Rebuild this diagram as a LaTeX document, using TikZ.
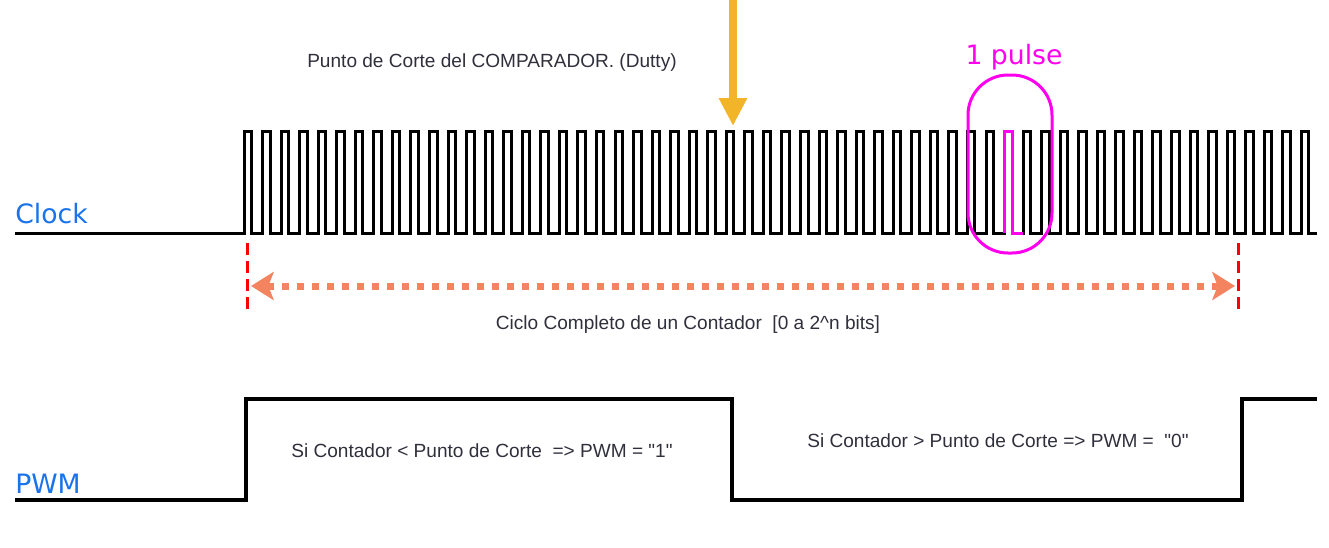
\documentclass[tikz,border=0pt]{standalone}
\usepackage{fontspec}
\setmainfont{Liberation Sans}
\newfontfamily\labelfont{DejaVu Sans}
\usetikzlibrary{arrows.meta}
\definecolor{clockBlue}{HTML}{1A73E8}
\definecolor{pulseMagenta}{HTML}{FF00EE}
\definecolor{cutYellow}{HTML}{F2B52A}
\definecolor{cycleSalmon}{HTML}{F4845F}
\definecolor{noteGray}{HTML}{30303C}
\definecolor{edgeRed}{HTML}{FF0000}

\begin{document}
\begin{tikzpicture}[x=0.75pt, y=-0.75pt, >=Latex,
    note/.style={text=noteGray, font=\fontsize{14.3}{16}\selectfont, inner sep=0pt},
    signame/.style={text=clockBlue, font=\labelfont\fontsize{20}{24}\selectfont, anchor=west, inner sep=0pt},
    edge/.style={edgeRed, line width=2.25pt, dash pattern=on 9pt off 4.5pt}]

    \useasboundingbox (0,0) rectangle (1329,547);

    \def\per{18.55}
    \def\hi{7.5}
    \def\xs{244}

    % signal names
    \node[signame] (clockName) at (15,214) {Clock};
    \node[signame] (pwmName) at (15,484) {PWM};

    % clock train
    \draw[line width=2.25pt] (15,233) -- (\xs,233)
        \foreach \i in {0,1,...,57} {
            -- ({\xs+\i*\per},233) -- ({\xs+\i*\per},131)
            -- ({\xs+\i*\per+\hi},131) -- ({\xs+\i*\per+\hi},233)
        } -- (1317,233);

    % one highlighted pulse
    \pgfmathsetmacro{\xp}{\xs+41*\per}
    \draw[pulseMagenta, line width=2.25pt] (\xp,233) -- (\xp,131) -- (\xp+\hi,131)
        -- (\xp+\hi,233) -- (\xp+\per,233);
    \node[draw=pulseMagenta, line width=2.25pt, rounded corners=30pt,
          minimum width=63pt, minimum height=133.5pt] (pulseBox) at (1010,164) {};
    \node[text=pulseMagenta, font=\labelfont\fontsize{20}{24}\selectfont, inner sep=0pt]
        (pulseName) at (1014,57) {1 pulse};

    % compare point
    \coordinate (cutTop) at (733,-5);
    \coordinate (cutTip) at (733,126);
    \draw[cutYellow, line width=6.5pt, -{Triangle[length=21pt, width=20pt]}] (cutTop) -- (cutTip);
    \node[note] (cutNote) at (492,63) {Punto de Corte del COMPARADOR. (Dutty)};

    % full counter cycle
    \coordinate (cycAtop) at (247,243);
    \coordinate (cycAbot) at (247,312);
    \coordinate (cycBtop) at (1238,243);
    \coordinate (cycBbot) at (1238,312);
    \draw[edge] (cycAtop) -- (cycAbot);
    \draw[edge] (cycBtop) -- (cycBbot);
    \coordinate (cycL) at (251,286);
    \coordinate (cycR) at (1235,286);
    \draw[cycleSalmon, line width=5.25pt, dash pattern=on 5.25pt off 6pt,
          {Stealth[length=17pt, width=21pt, inset=4pt]}-{Stealth[length=17pt, width=21pt, inset=4pt]}]
        (cycL) -- (cycR);
    \node[note] (cycNote) at (688,325) {Ciclo Completo de un Contador\ \ [0 a 2\^{}n bits]};

    % pwm output
    \draw[line width=3pt] (15,500) -- (246,500) -- (246,399) -- (732,399)
        -- (732,500) -- (1242,500) -- (1242,399) -- (1317,399);
    \node[note] (highNote) at (482,451) {Si Contador < Punto de Corte\ \ => PWM = \textquotedbl 1\textquotedbl};
    \node[note] (lowNote) at (998,441) {Si Contador > Punto de Corte => PWM =\ \ \textquotedbl 0\textquotedbl};

\end{tikzpicture}
\end{document}
